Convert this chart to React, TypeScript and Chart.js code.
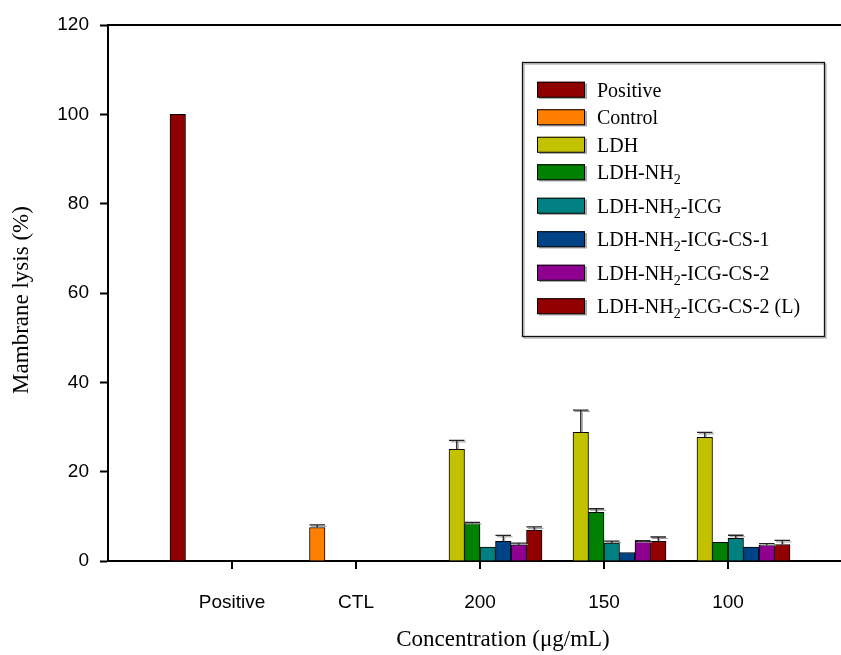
import React, { useEffect, useRef } from 'react';
import { Chart, registerables } from 'chart.js';

Chart.register(...registerables);

const categories = ['Positive', 'CTL', '200', '150', '100'];
const seriesNames = [
  'Positive',
  'Control',
  'LDH',
  'LDH-NH₂',
  'LDH-NH₂-ICG',
  'LDH-NH₂-ICG-CS-1',
  'LDH-NH₂-ICG-CS-2',
  'LDH-NH₂-ICG-CS-2 (L)',
];
const seriesColors = ['#8e0000', '#ff8000', '#c2c200', '#008000', '#008080', '#004286', '#900090', '#920000'];

const positiveValues = [100, null, null, null, null];
const controlValues = [null, 7.5, null, null, null];
const ldhValues = [null, null, 25.0, 28.8, 27.7];
const ldhNh2Values = [null, null, 8.4, 10.9, 4.2];
const icgValues = [null, null, 3.1, 4.0, 5.1];
const cs1Values = [null, null, 4.4, 1.9, 3.1];
const cs2Values = [null, null, 3.6, 4.4, 3.5];
const cs2LValues = [null, null, 6.9, 4.4, 3.7];

const positiveErrors = [0, null, null, null, null];
const controlErrors = [null, 0.6, null, null, null];
const ldhErrors = [null, null, 2.0, 5.0, 1.1];
const ldhNh2Errors = [null, null, 0.25, 0.8, 0];
const icgErrors = [null, null, 0, 0.45, 0.67];
const cs1Errors = [null, null, 1.35, 0, 0];
const cs2Errors = [null, null, 0.4, 0.15, 0.37];
const cs2LErrors = [null, null, 0.75, 0.97, 0.9];

const yMin = 0;
const yMax = 120;
const yStep = 20;
const xTitle = 'Concentration (μg/mL)';
const yTitle = 'Mambrane lysis (%)';

const allValues = [positiveValues, controlValues, ldhValues, ldhNh2Values, icgValues, cs1Values, cs2Values, cs2LValues];
const allErrors = [positiveErrors, controlErrors, ldhErrors, ldhNh2Errors, icgErrors, cs1Errors, cs2Errors, cs2LErrors];

const SERIF = '"Liberation Serif", "Times New Roman", serif';
const SANS = '"Liberation Sans", Arial, sans-serif';

function drawRich(ctx: CanvasRenderingContext2D, text: string, x: number, y: number, size: number) {
  const parts = text.split('₂');
  let cx = x;
  parts.forEach((p, i) => {
    ctx.font = `${size}px ${SERIF}`;
    ctx.fillText(p, cx, y);
    cx += ctx.measureText(p).width;
    if (i < parts.length - 1) {
      ctx.font = `${Math.round(size * 0.68)}px ${SERIF}`;
      ctx.fillText('2', cx, y + 5);
      cx += ctx.measureText('2').width;
    }
  });
}

const decorPlugin = {
  id: 'decor',
  afterDatasetsDraw(chart: any) {
    const ctx: CanvasRenderingContext2D = chart.ctx;
    const xScale = chart.scales.x;
    const yScale = chart.scales.y;
    const area = chart.chartArea;
    ctx.save();
    // error bars
    chart.data.datasets.forEach((ds: any, i: number) => {
      const meta = chart.getDatasetMeta(i);
      meta.data.forEach((el: any, j: number) => {
        const v = ds.data[j];
        const e = ds.errors[j];
        if (v == null || e == null || e <= 0) return;
        const yTop = yScale.getPixelForValue(v + e);
        const w = el.width;
        ctx.strokeStyle = '#9a9a9a';
        ctx.lineWidth = 1;
        ctx.beginPath();
        ctx.moveTo(el.x + 1.5, el.y);
        ctx.lineTo(el.x + 1.5, yTop + 1.5);
        ctx.moveTo(el.x - w / 2 + 1.5, yTop + 1.5);
        ctx.lineTo(el.x + w / 2 + 1.5, yTop + 1.5);
        ctx.stroke();
        ctx.strokeStyle = '#222';
        ctx.lineWidth = 1.3;
        ctx.beginPath();
        ctx.moveTo(el.x, el.y);
        ctx.lineTo(el.x, yTop);
        ctx.moveTo(el.x - w / 2, yTop);
        ctx.lineTo(el.x + w / 2, yTop);
        ctx.stroke();
      });
    });
    // x tick marks at labelled categories
    ctx.strokeStyle = '#000';
    ctx.lineWidth = 2;
    ctx.beginPath();
    xScale.ticks.forEach((t: any, i: number) => {
      if (!t.label) return;
      const px = Math.round(xScale.getPixelForTick(i));
      ctx.moveTo(px, area.bottom);
      ctx.lineTo(px, area.bottom + 8);
    });
    ctx.stroke();
    // top frame line
    ctx.beginPath();
    ctx.moveTo(area.left - 1, area.top);
    ctx.lineTo(area.right, area.top);
    ctx.stroke();
    // legend box
    ctx.strokeStyle = '#999';
    ctx.lineWidth = 1;
    ctx.strokeRect(524, 64, 302, 274);
    ctx.strokeStyle = '#111';
    ctx.lineWidth = 1.3;
    ctx.strokeRect(522.5, 62.5, 302, 274);
    let cy = 89.5;
    ctx.textAlign = 'left';
    ctx.textBaseline = 'alphabetic';
    chart.data.datasets.forEach((ds: any, i: number) => {
      if (i > 0) cy += chart.data.datasets[i - 1].label.includes('₂') ? 33.5 : 27.5;
      ctx.fillStyle = '#aaa';
      ctx.fillRect(539, cy - 6, 48, 15.5);
      ctx.fillStyle = ds.backgroundColor;
      ctx.fillRect(537, cy - 7.75, 48, 15.5);
      ctx.strokeStyle = '#000';
      ctx.lineWidth = 1;
      ctx.strokeRect(537.5, cy - 7.25, 47, 15);
      ctx.fillStyle = '#000';
      drawRich(ctx, ds.label, 597, cy + 7, 20);
    });
    // axis titles
    ctx.fillStyle = '#000';
    ctx.font = `23px ${SERIF}`;
    ctx.textAlign = 'center';
    ctx.textBaseline = 'middle';
    ctx.fillText(xTitle, 503, 640);
    ctx.translate(22, 300);
    ctx.rotate(-Math.PI / 2);
    ctx.fillText(yTitle, 0, 0);
    ctx.restore();
  },
};

export default function App() {
  const canvasRef = useRef<HTMLCanvasElement | null>(null);

  useEffect(() => {
    if (!canvasRef.current) return;
    const labels = ['', ...categories, ''];
    const pad = (a: (number | null)[]) => [null, ...a, null];
    const chart = new Chart(canvasRef.current, {
      type: 'bar',
      data: {
        labels,
        datasets: seriesNames.map((name, i) => ({
          label: name,
          data: pad(allValues[i]),
          errors: pad(allErrors[i]),
          backgroundColor: seriesColors[i],
          borderColor: '#000',
          borderWidth: 1,
          categoryPercentage: 1,
          barPercentage: 1,
        })) as any,
      },
      options: {
        animation: false,
        responsive: true,
        maintainAspectRatio: false,
        layout: { padding: { left: 0, right: 28, top: 25, bottom: 0 } },
        plugins: { legend: { display: false }, tooltip: { enabled: false } },
        scales: {
          x: {
            type: 'category',
            offset: false,
            grid: { display: false },
            border: { display: true, color: '#000', width: 2 },
            ticks: {
              color: '#000',
              font: { family: SANS, size: 19 },
              padding: 22,
              maxRotation: 0,
              autoSkip: false,
            },
            afterFit: (s: any) => {
              s.height = 94;
            },
          },
          y: {
            min: yMin,
            max: yMax,
            grid: { display: true, drawOnChartArea: false, tickLength: 8, tickWidth: 2, tickColor: '#000' },
            border: { display: true, color: '#000', width: 2 },
            ticks: { stepSize: yStep, color: '#000', font: { family: SANS, size: 19 }, padding: 11 },
            afterFit: (s: any) => {
              s.width = 108;
            },
          },
        },
      },
      plugins: [decorPlugin],
    });
    return () => chart.destroy();
  }, []);

  return (
    <div style={{ position: 'fixed', left: 0, top: 0, width: 841, height: 655, overflow: 'hidden', background: '#fff' }}>
      <div style={{ position: 'relative', width: 880, height: 655 }}>
        <canvas ref={canvasRef} />
      </div>
    </div>
  );
}
